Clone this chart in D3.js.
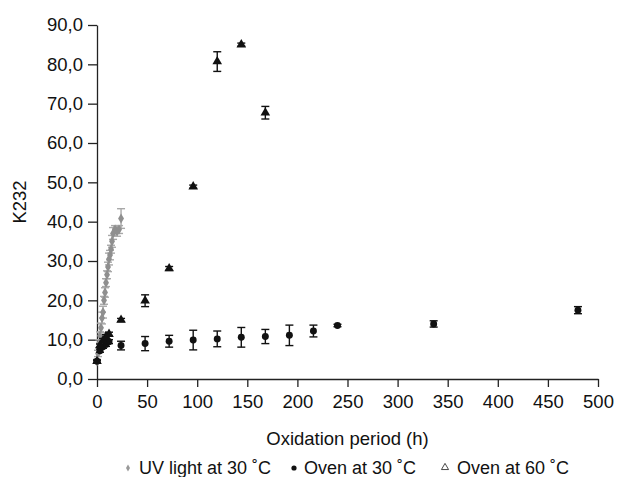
<!DOCTYPE html>
<html>
<head>
<meta charset="utf-8">
<script src="https://cdn.jsdelivr.net/npm/d3@7"></script>
<style>
  body { margin: 0; background: #fff; }
  svg { font-family: "Liberation Sans", Arial, sans-serif; display: block; }
  .axis path, .axis line { stroke: #222; stroke-width: 1.3; }
  .axis text { font-size: 18.5px; fill: #111; }
  .label { font-size: 18.5px; fill: #111; }
  .legend text { font-size: 18px; fill: #111; }
</style>
</head>
<body>
<div id="chart"></div>
<script>
// K232 values (hours -> K232, +/- error)
const uvHours = [0, 1, 2, 3, 4, 5, 6, 7, 8, 9, 10, 11, 12, 13, 14, 15, 16, 18, 20, 22, 24];
const uvK232 = [4.5, 6.5, 9.0, 11.0, 13.0, 15.5, 17.0, 20.0, 22.0, 24.5, 26.5, 28.5, 30.5, 31.5, 33.0, 35.0, 37.0, 38.0, 37.5, 38.0, 40.8];
const uvError = [0.5, 0.8, 1.0, 1.0, 1.2, 1.5, 1.5, 1.0, 1.2, 1.0, 1.0, 1.2, 1.5, 1.2, 1.0, 1.5, 1.5, 1.0, 1.2, 1.0, 2.5];

const oven30Hours = [0, 3, 6, 9, 12, 24, 48, 72, 96, 120, 144, 168, 192, 216, 240, 336, 480];
const oven30K232 = [4.5, 7.2, 8.2, 8.8, 9.5, 8.5, 9.0, 9.6, 9.9, 10.2, 10.6, 10.8, 11.1, 12.2, 13.6, 14.0, 17.5];
const oven30Error = [0.3, 0.4, 0.4, 0.5, 0.5, 1.1, 1.8, 1.5, 2.5, 2.0, 2.5, 1.8, 2.6, 1.5, 0.3, 0.8, 0.9];

const oven60Hours = [0, 3, 6, 9, 12, 24, 48, 72, 96, 120, 144, 168];
const oven60K232 = [4.5, 8.5, 9.8, 10.8, 11.4, 15.0, 19.9, 28.1, 48.9, 80.7, 85.0, 67.7];
const oven60Error = [0.3, 0.4, 0.5, 0.5, 0.5, 0.4, 1.5, 0.5, 0.4, 2.5, 0.4, 1.6];

const xTicks = [0, 50, 100, 150, 200, 250, 300, 350, 400, 450, 500];
const yTicks = [0, 10, 20, 30, 40, 50, 60, 70, 80, 90];
const legendLabels = ['UV light at 30 ˚C', 'Oven at 30 ˚C', 'Oven at 60 ˚C'];

class K232Chart {
  constructor(_config, _series) {
    this.config = {
      parentElement: _config.parentElement,
      containerWidth: 618,
      containerHeight: 477,
      margin: {
        top: 25, right: 20, bottom: 98, left: 97,
      },
    };
    this.series = _series;
    this.initVis();
  }

  initVis() {
    const vis = this;

    vis.width = vis.config.containerWidth - vis.config.margin.left - vis.config.margin.right;
    vis.height = vis.config.containerHeight - vis.config.margin.top - vis.config.margin.bottom;

    vis.svg = d3.select(vis.config.parentElement).append('svg')
      .attr('width', vis.config.containerWidth)
      .attr('height', vis.config.containerHeight);

    vis.chart = vis.svg.append('g')
      .attr('transform', `translate(${vis.config.margin.left},${vis.config.margin.top})`);

    vis.xScale = d3.scaleLinear()
      .domain([0, 500])
      .range([0, vis.width]);

    vis.yScale = d3.scaleLinear()
      .domain([0, 90])
      .range([vis.height, 0]);

    // comma as decimal separator, like the original
    const commaFormat = (d) => d.toFixed(1).replace('.', ',');

    vis.xAxis = d3.axisBottom(vis.xScale)
      .tickValues(xTicks)
      .tickSize(8)
      .tickSizeOuter(0)
      .tickPadding(8);

    vis.yAxis = d3.axisLeft(vis.yScale)
      .tickValues(yTicks)
      .tickFormat(commaFormat)
      .tickSize(9)
      .tickSizeOuter(0)
      .tickPadding(5);

    vis.chart.append('g')
      .attr('class', 'axis x-axis')
      .attr('transform', `translate(0,${vis.height})`)
      .call(vis.xAxis);

    vis.chart.append('g')
      .attr('class', 'axis y-axis')
      .call(vis.yAxis);

    vis.chart.selectAll('.axis text').attr('font-family', null);

    // axis titles
    vis.svg.append('text')
      .attr('class', 'label')
      .attr('x', vis.config.margin.left + vis.width / 2)
      .attr('y', 445)
      .attr('text-anchor', 'middle')
      .text('Oxidation period (h)');

    vis.svg.append('text')
      .attr('class', 'label')
      .attr('transform', `translate(26,${vis.config.margin.top + vis.height / 2}) rotate(-90)`)
      .attr('text-anchor', 'middle')
      .text('K232');

    vis.renderVis();
    vis.renderLegend();
  }

  renderVis() {
    const vis = this;

    vis.series.forEach((s) => {
      const points = s.hours.map((h, i) => ({ h, k: s.values[i], e: s.errors[i] }));
      const g = vis.chart.append('g').attr('class', `series ${s.key}`);

      // error bars
      const bars = g.selectAll('.err')
        .data(points)
        .join('g')
        .attr('class', 'err')
        .attr('stroke', s.errColor)
        .attr('stroke-width', 1.4);

      bars.append('line')
        .attr('x1', (d) => vis.xScale(d.h))
        .attr('x2', (d) => vis.xScale(d.h))
        .attr('y1', (d) => vis.yScale(d.k - d.e))
        .attr('y2', (d) => vis.yScale(d.k + d.e));

      [-1, 1].forEach((sign) => {
        bars.append('line')
          .attr('x1', (d) => vis.xScale(d.h) - 4)
          .attr('x2', (d) => vis.xScale(d.h) + 4)
          .attr('y1', (d) => vis.yScale(d.k + sign * d.e))
          .attr('y2', (d) => vis.yScale(d.k + sign * d.e));
      });

      // markers
      g.selectAll('.mark')
        .data(points)
        .join('path')
        .attr('class', 'mark')
        .attr('d', d3.symbol().type(s.symbol).size(s.size))
        .attr('transform', (d) => `translate(${vis.xScale(d.h)},${vis.yScale(d.k)})`)
        .attr('fill', s.color);
    });
  }

  renderLegend() {
    const vis = this;
    const legend = vis.svg.append('g').attr('class', 'legend');
    const markerX = [128, 294, 445];
    const textX = [139, 304, 457];
    const baseline = 474;

    legend.selectAll('text')
      .data(legendLabels)
      .join('text')
      .attr('x', (d, i) => textX[i])
      .attr('y', baseline)
      .text((d) => d);

    legend.append('path')
      .attr('d', d3.symbol().type(d3.symbolDiamond).size(14))
      .attr('transform', `translate(${markerX[0]},${baseline - 6})`)
      .attr('fill', '#999');

    legend.append('circle')
      .attr('cx', markerX[1])
      .attr('cy', baseline - 6)
      .attr('r', 2.6)
      .attr('fill', '#111');

    legend.append('path')
      .attr('d', d3.symbol().type(d3.symbolTriangle).size(22))
      .attr('transform', `translate(${markerX[2]},${baseline - 6.5})`)
      .attr('fill', 'none')
      .attr('stroke', '#333')
      .attr('stroke-width', 0.9);
  }
}

const chart = new K232Chart({ parentElement: '#chart' }, [
  {
    key: 'uv', hours: uvHours, values: uvK232, errors: uvError,
    symbol: d3.symbolDiamond, size: 30, color: '#8f8f8f', errColor: '#a8a8a8',
  },
  {
    key: 'oven30', hours: oven30Hours, values: oven30K232, errors: oven30Error,
    symbol: d3.symbolCircle, size: 38, color: '#111', errColor: '#111',
  },
  {
    key: 'oven60', hours: oven60Hours, values: oven60K232, errors: oven60Error,
    symbol: d3.symbolTriangle, size: 40, color: '#111', errColor: '#111',
  },
]);
</script>
</body>
</html>
